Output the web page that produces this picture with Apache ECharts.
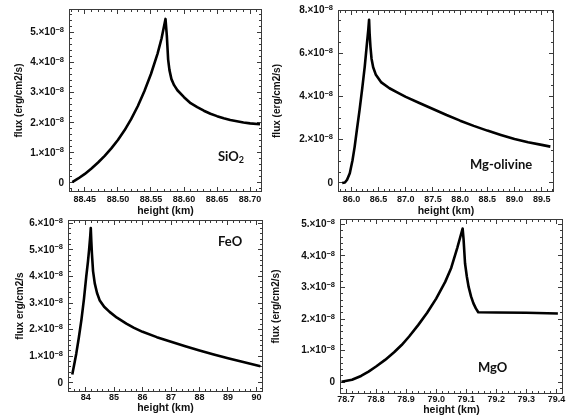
<!DOCTYPE html>
<html>
<head>
<meta charset="utf-8">
<script src="https://cdn.jsdelivr.net/npm/echarts@6/dist/echarts.min.js"></script>
<style>
  html, body { margin: 0; padding: 0; background: #fff; }
  #wrap { position: relative; width: 574px; height: 418px; }
  .panel { position: absolute; left: 0; top: 0; width: 574px; height: 418px; }
</style>
</head>
<body>
<div id="wrap">
  <div class="panel" id="p0"></div>
  <div class="panel" id="p1"></div>
  <div class="panel" id="p2"></div>
  <div class="panel" id="p3"></div>
</div>
<script>
// flux values are in units of 1e-8 erg/cm2/s
const sio2Height = [88.431, 88.44, 88.45, 88.46, 88.47, 88.48, 88.49, 88.50, 88.51, 88.52, 88.53, 88.54, 88.55, 88.56, 88.566, 88.572,
  88.574, 88.576, 88.578, 88.581, 88.585, 88.59, 88.60, 88.61, 88.62, 88.63, 88.64, 88.65, 88.66, 88.67, 88.68, 88.69, 88.70, 88.715];
const sio2Flux = [0.03, 0.15, 0.30, 0.48, 0.68, 0.90, 1.15, 1.43, 1.75, 2.12, 2.55, 3.05, 3.62, 4.30, 4.80, 5.45,
  4.90, 4.10, 3.75, 3.45, 3.25, 3.08, 2.85, 2.65, 2.52, 2.40, 2.30, 2.22, 2.15, 2.09, 2.05, 2.01, 1.98, 1.95];

const olivHeight = [85.83, 85.88, 85.92, 85.97, 86.02, 86.06, 86.10, 86.15, 86.20, 86.245, 86.28, 86.31, 86.325,
  86.335, 86.35, 86.37, 86.40, 86.45, 86.55, 86.70, 86.85, 87.0, 87.25, 87.5, 87.75, 88.0, 88.25, 88.5, 88.75, 89.0, 89.25, 89.5, 89.66];
const olivFlux = [0.0, 0.02, 0.15, 0.45, 1.05, 1.68, 2.45, 3.38, 4.4, 5.38, 6.3, 7.08, 7.55,
  6.9, 6.3, 5.75, 5.35, 5.0, 4.65, 4.38, 4.18, 3.98, 3.70, 3.42, 3.14, 2.88, 2.64, 2.42, 2.22, 2.03, 1.88, 1.76, 1.68];

const feoHeight = [83.53, 83.6, 83.67, 83.76, 83.85, 83.94, 84.02, 84.08, 84.12, 84.16, 84.18,
  84.20, 84.22, 84.26, 84.32, 84.4, 84.49, 84.65, 84.84, 85.1, 85.43, 85.7, 86.0, 86.5, 87.0, 87.5, 88.0, 88.5, 89.0, 89.5, 90.14];
const feoFlux = [0.32, 0.70, 1.10, 1.70, 2.36, 3.15, 3.98, 4.55, 4.99, 5.5, 5.82,
  5.3, 4.86, 4.2, 3.74, 3.38, 3.11, 2.86, 2.67, 2.45, 2.23, 2.07, 1.92, 1.72, 1.55, 1.38, 1.22, 1.07, 0.93, 0.80, 0.63];

const mgoHeight = [78.685, 78.72, 78.75, 78.775, 78.80, 78.83, 78.86, 78.885, 78.91, 78.94, 78.97, 79.0, 79.03, 79.05, 79.07, 79.088,
  79.091, 79.096, 79.102, 79.108, 79.116, 79.124, 79.132, 79.14, 79.2, 79.3, 79.405];
const mgoFlux = [0.02, 0.08, 0.20, 0.34, 0.50, 0.71, 0.95, 1.18, 1.45, 1.81, 2.20, 2.65, 3.18, 3.62, 4.25, 4.87,
  4.55, 3.77, 3.35, 3.02, 2.72, 2.50, 2.34, 2.22, 2.21, 2.20, 2.18];

// tick labels
const sio2XTicks = [88.45, 88.50, 88.55, 88.60, 88.65, 88.70];
const olivXTicks = [86.0, 86.5, 87.0, 87.5, 88.0, 88.5, 89.0, 89.5];
const feoXTicks = [84, 85, 86, 87, 88, 89, 90];
const mgoXTicks = [78.7, 78.8, 78.9, 79.0, 79.1, 79.2, 79.3, 79.4];
const sio2YTicks = [0, 1, 2, 3, 4, 5];
const olivYTicks = [0, 2, 4, 6, 8];
const feoYTicks = [0, 1, 2, 3, 4, 5, 6];
const mgoYTicks = [0, 1, 2, 3, 4, 5];

const panels = [
  { label: '{a|SiO}{b|2}', labelPos: { left: 218, top: 149 }, x: sio2Height, y: sio2Flux, xTicks: sio2XTicks, yTicks: sio2YTicks, dec: 2,
    xMin: 88.426, xMax: 88.718, yMin: -0.30, yMax: 5.78, xMinor: 0.01, yMinor: 0.2,
    grid: { left: 69, top: 9, width: 193, height: 183 }, labelMargin: 3.5, xNameGap: 12.5, yNameGap: 45,
    yName: 'flux (erg/cm2/s)' },
  { label: '{a|Mg-olivine}', labelPos: { left: 470, top: 157 }, x: olivHeight, y: olivFlux, xTicks: olivXTicks, yTicks: olivYTicks, dec: 1,
    xMin: 85.753, xMax: 89.727, yMin: -0.42, yMax: 8.0, xMinor: 0.1, yMinor: 0.5,
    grid: { left: 338, top: 10, width: 216, height: 182 }, labelMargin: 3.5, xNameGap: 12.5, yNameGap: 56,
    yName: 'flux (erg/cm2/s)' },
  { label: '{a|FeO}', labelPos: { left: 218, top: 234 }, x: feoHeight, y: feoFlux, xTicks: feoXTicks, yTicks: feoYTicks, dec: 0,
    xMin: 83.38, xMax: 90.23, yMin: -0.34, yMax: 6.12, xMinor: 0.2, yMinor: 0.2,
    grid: { left: 68, top: 220, width: 195, height: 172 }, labelMargin: 1, xNameGap: 4.5, yNameGap: 41,
    yName: 'flux erg/cm2/s' },
  { label: '{a|MgO}', labelPos: { left: 478, top: 360 }, x: mgoHeight, y: mgoFlux, xTicks: mgoXTicks, yTicks: mgoYTicks, dec: 1,
    xMin: 78.680, xMax: 79.422, yMin: -0.37, yMax: 5.17, xMinor: 0.02, yMinor: 0.2,
    grid: { left: 340, top: 219, width: 223, height: 175 }, labelMargin: 1, xNameGap: 3, yNameGap: 59,
    yName: 'flux (erg/cm2/s)' }
];

const font = 'Liberation Sans, Arial, sans-serif';
const frameColor = '#3a3a3a';
const majorLen = 5, minorLen = 3;

const labelRich = {
  a: { fontSize: 13, fontFamily: 'Lato, Open Sans, sans-serif', color: '#111', lineHeight: 16 },
  b: { fontSize: 9, fontFamily: 'Lato, Open Sans, sans-serif', color: '#111', lineHeight: 10, verticalAlign: 'bottom' }
};

function minorTicks(lo, hi, step) {
  const out = [];
  const start = Math.ceil(lo / step - 1e-9);
  for (let k = start; k * step <= hi + 1e-9; k++) out.push(+(k * step).toFixed(4));
  return out;
}

// thin filled rectangles instead of 1px strokes
function bar(x, y, w, h) {
  return { type: 'rect', shape: { x, y, width: w, height: h }, style: { fill: frameColor } };
}

function xTickSeries(p, values, len) {
  return {
    type: 'custom', silent: true, z: 3,
    data: values.map((v) => [v, p.yMin]),
    renderItem: (params, api) => {
      const b = api.coord([api.value(0), p.yMin]);
      const t = api.coord([api.value(0), p.yMax]);
      const px = Math.round(b[0] - 0.5);
      return { type: 'group', children: [bar(px, Math.round(b[1]) - len, 1, len), bar(px, Math.round(t[1]), 1, len)] };
    }
  };
}

function yTickSeries(p, values, len) {
  return {
    type: 'custom', silent: true, z: 3,
    data: values.map((v) => [p.xMin, v]),
    renderItem: (params, api) => {
      const l = api.coord([p.xMin, api.value(1)]);
      const r = api.coord([p.xMax, api.value(1)]);
      const py = Math.round(l[1] - 0.5);
      return { type: 'group', children: [bar(Math.round(l[0]), py, len, 1), bar(Math.round(r[0]) - len, py, len, 1)] };
    }
  };
}

function frameSeries(p) {
  return {
    type: 'custom', silent: true, z: 3,
    data: [[p.xMin, p.yMin]],
    renderItem: (params, api) => {
      const tl = api.coord([p.xMin, p.yMax]);
      const br = api.coord([p.xMax, p.yMin]);
      const x0 = Math.round(tl[0]), y0 = Math.round(tl[1]), x1 = Math.round(br[0]), y1 = Math.round(br[1]);
      return { type: 'group', children: [
        bar(x0, y0, x1 - x0, 1), bar(x0, y1 - 1, x1 - x0, 1),
        bar(x0, y0, 1, y1 - y0), bar(x1 - 1, y0, 1, y1 - y0)
      ] };
    }
  };
}

panels.forEach((p, g) => {
  const chart = echarts.init(document.getElementById('p' + g));
  chart.setOption({
    animation: false,
    title: Object.assign({ text: p.label, padding: 0, textStyle: { rich: labelRich } }, p.labelPos),
    grid: Object.assign({ show: false }, p.grid),
    xAxis: {
      type: 'value', min: p.xMin, max: p.xMax,
      splitLine: { show: false }, axisLine: { show: false, onZero: false }, axisTick: { show: false },
      axisLabel: {
        customValues: p.xTicks, margin: p.labelMargin, color: '#111', fontSize: 9, fontWeight: 'bold',
        fontFamily: font, formatter: (v) => v.toFixed(p.dec)
      },
      name: 'height (km)', nameLocation: 'middle', nameGap: p.xNameGap,
      nameTextStyle: { fontSize: 10.5, fontWeight: 'bold', fontFamily: font, color: '#111' }
    },
    yAxis: {
      type: 'value', min: p.yMin, max: p.yMax,
      splitLine: { show: false }, axisLine: { show: false, onZero: false }, axisTick: { show: false },
      axisLabel: {
        customValues: p.yTicks, margin: 5, color: '#111', fontFamily: font,
        formatter: (v) => v === 0 ? '{m|0}' : '{m|' + v + '.\u00d710}{s|\u22128}',
        rich: {
          m: { fontSize: 10, fontWeight: 'bold', fontFamily: font, color: '#111', lineHeight: 13 },
          s: { fontSize: 7.5, fontWeight: 'bold', fontFamily: font, color: '#111', lineHeight: 9, verticalAlign: 'top' }
        }
      },
      name: p.yName, nameLocation: 'middle', nameGap: p.yNameGap, nameRotate: 90,
      nameTextStyle: { fontSize: 10, fontWeight: 'bold', fontFamily: font, color: '#111' }
    },
    series: [
      frameSeries(p),
      xTickSeries(p, minorTicks(p.xMin, p.xMax, p.xMinor), minorLen),
      xTickSeries(p, p.xTicks, majorLen),
      yTickSeries(p, minorTicks(p.yMin, p.yMax, p.yMinor), minorLen),
      yTickSeries(p, p.yTicks, majorLen),
      {
        type: 'line',
        z: 4,
        data: p.x.map((h, i) => [h, p.y[i]]),
        showSymbol: false,
        lineStyle: { color: '#000', width: 2.6, join: 'round' }
      }
    ]
  });
});
</script>
</body>
</html>
